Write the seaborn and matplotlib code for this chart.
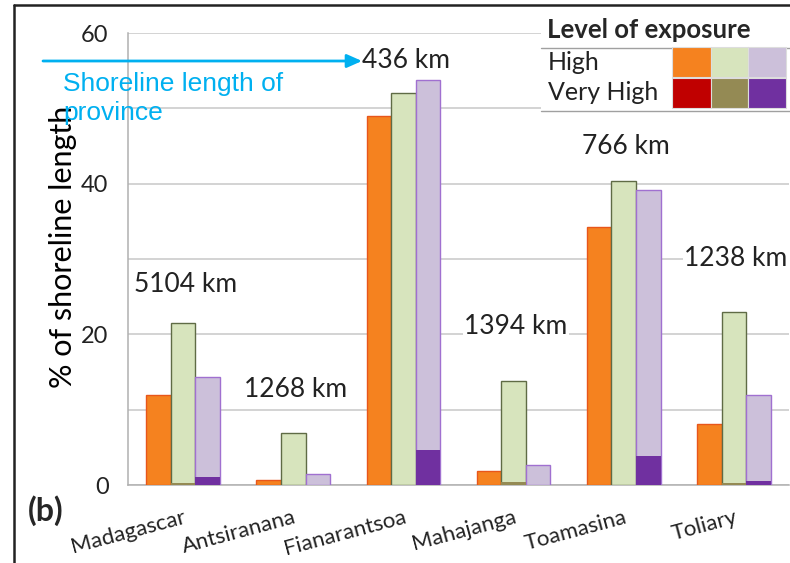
import matplotlib
matplotlib.use("Agg")
import matplotlib.pyplot as plt
from matplotlib.lines import Line2D
from matplotlib.patches import Rectangle
import seaborn as sns
import pandas as pd

sns.set_style("white")
plt.rcParams["font.family"] = ["Lato", "DejaVu Sans"]

# ---------------- data ----------------
provinces = ["Madagascar", "Antsiranana", "Fianarantsoa", "Mahajanga", "Toamasina", "Toliary"]
series = ["Index 1", "Index 2", "Index 3"]
high_1 = [12.0, 0.6, 49.0, 1.9, 34.3, 8.1]
high_2 = [21.5, 6.9, 52.0, 13.8, 40.4, 22.9]
high_3 = [14.3, 1.5, 53.8, 2.7, 39.1, 11.9]
very_high_1 = [0.0, 0.0, 0.0, 0.0, 0.0, 0.0]
very_high_2 = [0.2, 0.0, 0.0, 0.4, 0.0, 0.2]
very_high_3 = [1.0, 0.0, 4.7, 0.0, 3.8, 0.5]
shoreline_km = [5104, 1268, 436, 1394, 766, 1238]
label_y = [26.6, 12.7, 56.4, 21.0, 44.9, 30.1]
exposure_levels = ["High", "Very High"]

rows = []
for s, hv, vv in zip(series, [high_1, high_2, high_3], [very_high_1, very_high_2, very_high_3]):
    for p, h, v in zip(provinces, hv, vv):
        rows.append({"province": p, "series": s, "high": h, "very_high": v})
df = pd.DataFrame(rows)

light_colors = ["#F5821F", "#D7E4BD", "#CCC0DA"]
edge_colors = ["#E8561A", "#5F6B45", "#A070D0"]
dark_colors = ["#C00000", "#948A54", "#7030A0"]

fig = plt.figure(figsize=(7.9, 5.63), dpi=100)
ax = fig.add_axes([128 / 790, 78 / 563, 661 / 790, 452 / 563])

sns.barplot(data=df, x="province", y="high", hue="series", order=provinces,
            hue_order=series, palette=light_colors, width=0.67, gap=0,
            saturation=1, errorbar=None, legend=False, ax=ax, zorder=3)
for cont, ec in zip(ax.containers, edge_colors):
    for b in cont:
        b.set_edgecolor(ec)
        b.set_linewidth(1.0)
n_first = len(ax.containers)
sns.barplot(data=df, x="province", y="very_high", hue="series", order=provinces,
            hue_order=series, palette=dark_colors, width=0.67, gap=0,
            saturation=1, errorbar=None, legend=False, ax=ax, zorder=4)
for cont in ax.containers[n_first:]:
    for b in cont:
        b.set_edgecolor("none")
        b.set_zorder(4)

ax.set_xlim(-0.5, len(provinces) - 0.5)
ax.set_ylim(0, 60)
ax.set_yticks(range(0, 61, 10))
ax.set_yticklabels(["0", "", "20", "", "40", "", "60"], fontsize=17, color="#222222")
ax.yaxis.grid(True, color="#C8C8C8", lw=1.1, zorder=0)
ax.set_axisbelow(True)
ax.set_xticks(range(len(provinces)))
ax.set_xticklabels(provinces, rotation=15, ha="right", rotation_mode="anchor",
                   fontsize=16, color="#222222")
ax.set_xticks([i - 0.5 for i in range(len(provinces) + 1)], minor=True)
ax.tick_params(axis="x", which="major", length=0, pad=16)
ax.tick_params(axis="x", which="minor", length=6, color="#B0B0B0", width=1.1)
ax.tick_params(axis="y", length=8, color="#B0B0B0", width=1.1, pad=6)
for side in ["top", "right"]:
    ax.spines[side].set_visible(False)
for side in ["left", "bottom"]:
    ax.spines[side].set_color("#B0B0B0")
    ax.spines[side].set_linewidth(1.1)
ax.set_xlabel("")
ax.set_ylabel("% of shoreline length", fontsize=22, color="black")
ax.yaxis.set_label_coords(-0.098, 0.527)
ax.yaxis.label.set_va("center")

# shoreline length labels
for i, (km, yy) in enumerate(zip(shoreline_km, label_y)):
    ax.text(i + 0.02, yy, f"{km} km", ha="center", va="center", fontsize=19,
            color="#222222", zorder=5,
            bbox=dict(facecolor="white", edgecolor="none", pad=1))

# arrow and annotation (figure pixels)
cyan = "#00B0F0"
ax.annotate("", xy=(362, 563 - 61), xytext=(43, 563 - 61),
            xycoords="figure pixels", textcoords="figure pixels",
            arrowprops=dict(arrowstyle="-|>,head_length=0.9,head_width=0.4",
                            color=cyan, lw=2, shrinkA=0, shrinkB=0),
            annotation_clip=False)
fig.text(63 / 790, 1 - 72 / 563, "Shoreline length of\nprovince", color=cyan,
         fontsize=19, family=["Liberation Sans", "DejaVu Sans"],
         ha="left", va="top", linespacing=1.25)

# legend table
fig.patches.append(Rectangle((541 / 790, 1 - 112 / 563), 249 / 790, 97 / 563,
                             transform=fig.transFigure, facecolor="white",
                             edgecolor="none", zorder=10))
fig.text(547 / 790, 1 - 30 / 563, "Level of exposure", fontweight="bold",
         fontsize=18.5, ha="left", va="center", zorder=11)
for yy in [48, 111]:
    fig.add_artist(Line2D([541 / 790, 1.0], [1 - yy / 563] * 2, color="#A0A0A0",
                          lw=1.0, transform=fig.transFigure, zorder=11))
row_tops = [47, 78]
col_lefts = [672, 711, 748]
col_w = [39, 37, 38]
for r, (lvl, cols) in enumerate(zip(exposure_levels, [light_colors, dark_colors])):
    fig.text(548 / 790, 1 - (row_tops[r] + 15) / 563, lvl, fontsize=18,
             ha="left", va="center", color="#222222", zorder=11)
    for c, col in enumerate(cols):
        fig.patches.append(Rectangle((col_lefts[c] / 790, 1 - (row_tops[r] + 30) / 563),
                                     col_w[c] / 790, 30 / 563,
                                     transform=fig.transFigure, facecolor=col,
                                     edgecolor="#DDDDDD", lw=0.8, zorder=12))

fig.text(28 / 790, 1 - 511 / 563, "(b)", fontweight="bold", fontsize=23,
         ha="left", va="center")

# outer frame (left and top)
fig.add_artist(Line2D([14 / 790, 14 / 790], [0, 1 - 5 / 563], color="#222222",
                      lw=1.8, transform=fig.transFigure))
fig.add_artist(Line2D([14 / 790, 1.0], [1 - 5 / 563] * 2, color="#222222",
                      lw=1.8, transform=fig.transFigure))

fig.savefig("out.png", dpi=100)
